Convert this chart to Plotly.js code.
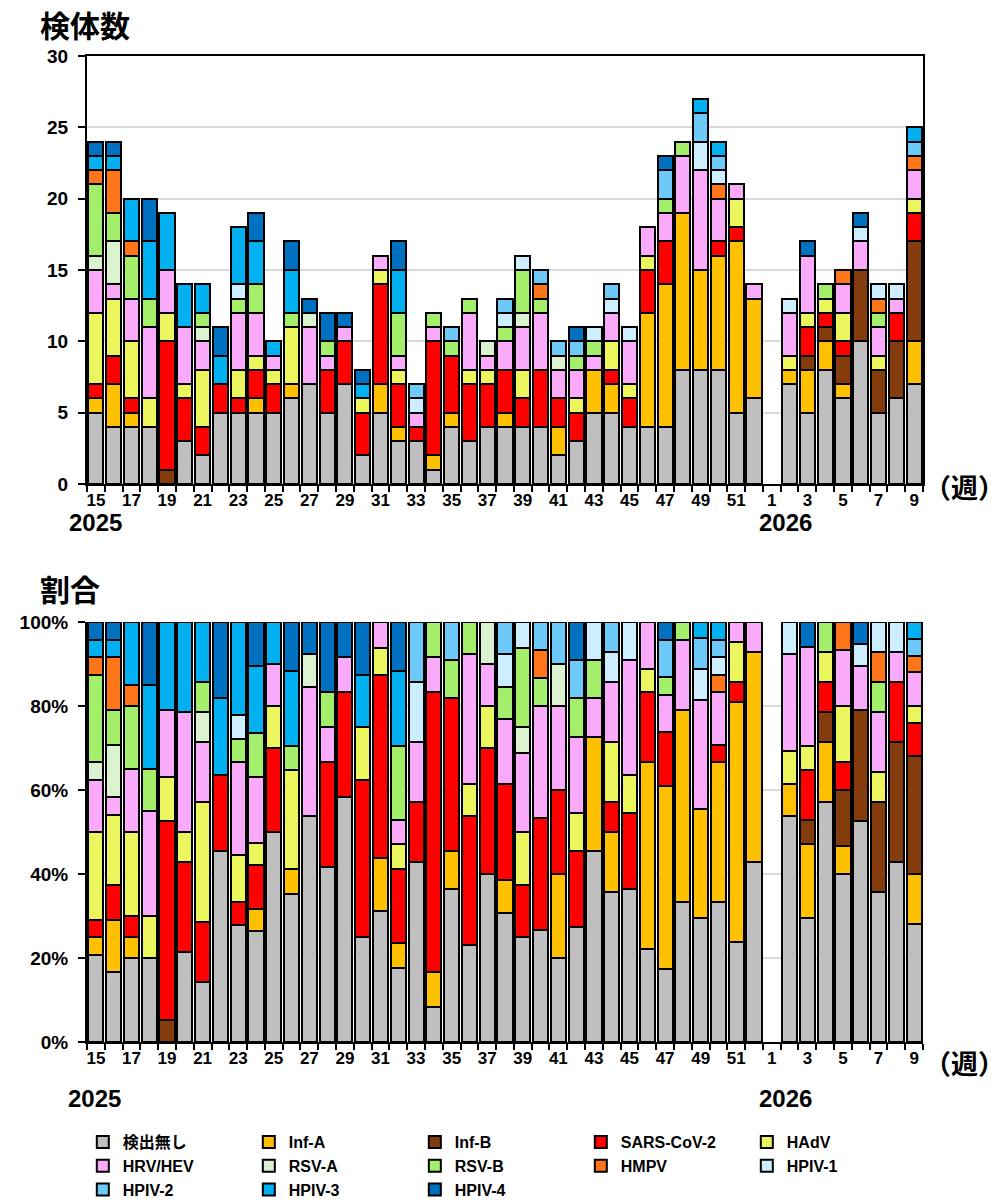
<!DOCTYPE html>
<html><head><meta charset="utf-8">
<script src="https://cdn.plot.ly/plotly-3.0.1.min.js"></script>
<style>body{margin:0;background:#fff}#chart{width:1004px;height:1202px}</style>
</head><body><div id="chart"></div>
<script>
// Weeks: 2025 weeks 15-52, then 2026 weeks 1-9
const weeks = ['15','16','17','18','19','20','21','22','23','24','25','26','27','28','29','30','31','32','33','34','35','36','37','38','39','40','41','42','43','44','45','46','47','48','49','50','51','52','1','2','3','4','5','6','7','8','9'];

const nondetect = [5,4,4,4,0,3,2,5,5,5, 5,6,7,5,7,2,5,3,3,1, 4,3,4,4,4,4,2,3,5,5, 4,4,4,8,8,8,5,6, 0,7,5,8,6,10,5,6,7];
const infA      = [1,3,1,0,0,0,0,0,0,1, 0,1,0,0,0,0,2,1,0,1, 1,0,0,1,0,0,2,0,3,2, 0,8,10,11,7,8,12,7, 0,1,3,2,1,0,0,0,3];
const infB      = [0,0,0,0,1,0,0,0,0,0, 0,0,0,0,0,0,0,0,0,0, 0,0,0,0,0,0,0,0,0,0, 0,0,0,0,0,0,0,0, 0,0,1,1,2,5,3,4,7];
const sarsCoV2  = [1,2,1,0,9,3,2,2,1,2, 2,0,0,3,3,3,7,3,1,8, 4,4,3,3,2,4,2,2,0,1, 2,3,3,0,0,1,1,0, 0,0,2,1,1,0,0,2,2];
const hadv      = [5,4,4,2,2,1,4,0,2,1, 1,4,0,0,0,1,1,1,0,0, 0,1,1,0,2,0,0,1,0,2, 1,1,0,0,0,0,2,0, 0,1,1,1,2,0,1,0,1];
const hrvHev    = [3,1,3,5,3,4,2,0,4,3, 1,0,4,1,1,0,1,1,1,1, 0,4,1,2,3,4,2,2,1,2, 3,2,2,4,7,3,1,1, 0,3,4,0,2,2,2,1,2];
const rsvA      = [1,3,0,0,0,0,1,0,0,0, 0,0,1,0,0,0,0,0,0,0, 0,0,1,0,1,0,1,0,0,0, 0,0,0,0,0,0,0,0, 0,0,0,0,0,0,0,0,0];
const rsvB      = [5,2,3,2,0,0,1,0,1,2, 0,1,0,1,0,0,0,3,0,1, 1,1,0,1,3,1,0,1,1,0, 0,0,1,1,0,0,0,0, 0,0,0,1,0,0,1,0,0];
const hmpv      = [1,3,1,0,0,0,0,0,0,0, 0,0,0,0,0,0,0,0,0,0, 0,0,0,0,0,1,0,0,0,0, 0,0,0,0,0,1,0,0, 0,0,0,0,1,0,1,0,1];
const hpiv1     = [0,0,0,0,0,0,0,0,1,0, 0,0,0,0,0,0,0,0,1,0, 0,0,0,1,1,0,0,0,1,1, 1,0,0,0,2,1,0,0, 0,1,0,0,0,1,1,1,0];
const hpiv2     = [0,0,0,0,0,0,0,0,0,0, 0,0,0,0,0,0,0,0,1,0, 1,0,0,1,0,1,1,1,0,1, 0,0,2,0,2,1,0,0, 0,0,0,0,0,0,0,0,1];
const hpiv3     = [1,1,3,4,4,3,2,2,4,3, 1,3,0,0,0,1,0,3,0,0, 0,0,0,0,0,0,0,0,0,0, 0,0,0,0,1,1,0,0, 0,0,0,0,0,0,0,0,1];
const hpiv4     = [1,1,0,3,0,0,0,2,0,2, 0,2,1,2,1,1,0,2,0,0, 0,0,0,0,0,0,0,1,0,0, 0,0,1,0,0,0,0,0, 0,0,1,0,0,1,0,0,0];

const seriesNames = ['検出無し','Inf-A','Inf-B','SARS-CoV-2','HAdV','HRV/HEV','RSV-A','RSV-B','HMPV','HPIV-1','HPIV-2','HPIV-3','HPIV-4'];
const seriesValues = [nondetect,infA,infB,sarsCoV2,hadv,hrvHev,rsvA,rsvB,hmpv,hpiv1,hpiv2,hpiv3,hpiv4];
const seriesColors = ['#BFBFBF','#FFC000','#843C0C','#FF0000','#EBF55D','#FAAAFA','#DAF2D0','#A3EE6A','#FF7519','#CCEEFF','#6DC9F7','#00B0F0','#0070C0'];

const tickText = weeks.map((w,i) => i % 2 === 0 ? w : '');

const totals = weeks.map((_,i) => seriesValues.reduce((a,s) => a + s[i], 0));

const BOLD = 'Arial, "Liberation Sans", "Noto Sans CJK JP", sans-serif';
const CJK = '"Noto Sans CJK JP", Arial, sans-serif';

const traces = [];
seriesNames.forEach((name, k) => {
  const vals = seriesValues[k];
  const line = {color:'#000', width:2};
  traces.push({
    type:'bar', name, x:weeks, y:vals.map(v => v === 0 ? null : v),
    marker:{color:seriesColors[k], line}, xaxis:'x', yaxis:'y',
    legendgroup:name, showlegend:true, hoverinfo:'skip'
  });
  traces.push({
    type:'bar', name, x:weeks,
    y:vals.map((v,i) => (v === 0 || totals[i] === 0) ? null : v / totals[i] * 100),
    marker:{color:seriesColors[k], line}, xaxis:'x2', yaxis:'y2',
    legendgroup:name, showlegend:false, hoverinfo:'skip'
  });
});

// pixel helpers (plot area: x 87..923, y 56..1042)
const L = 87, R = 923, T = 56, B = 1042;
const px = x => (x - L) / (R - L);
const py = y => (B - y) / (B - T);

const xaxisBase = {
  type:'category', categoryorder:'array', categoryarray:weeks,
  tickmode:'array', tickvals:weeks, ticktext:tickText, tickson:'boundaries',
  tickangle:0, automargin:false,
  ticks:'outside', ticklen:6, tickwidth:2, tickcolor:'#000',
  showline:true, linecolor:'#000', linewidth:2, showgrid:false, zeroline:false,
  tickfont:{family:BOLD, size:17, color:'#000', weight:'bold'}, fixedrange:true
};
const yaxisBase = {
  ticks:'outside', ticklen:7, tickwidth:2, tickcolor:'#000', automargin:false,
  ticklabelstandoff:6,
  showline:true, linecolor:'#000', linewidth:2,
  showgrid:true, gridcolor:'#D9D9D9', gridwidth:2, zeroline:false,
  tickfont:{family:BOLD, size:19, color:'#000', weight:'bold'}, fixedrange:true
};

const ann = (text, x, y, xanchor, size, family) => ({
  text, xref:'paper', yref:'paper', x:px(x), y:py(y), xanchor, yanchor:'middle',
  showarrow:false, font:{family:family || BOLD, size:size || 22, color:'#000', weight:'bold'}
});

const layout = {
  width:1004, height:1202,
  margin:{l:L, r:1004 - R, t:T, b:1202 - B, autoexpand:false},
  paper_bgcolor:'#fff', plot_bgcolor:'#fff',
  barmode:'stack', bargap:0.15,
  font:{family:BOLD, size:16, color:'#000'},
  showlegend:true,
  legend:{
    orientation:'h', x:-0.005, xanchor:'left', y:py(1125), yanchor:'top',
    traceorder:'normal', entrywidth:121, entrywidthmode:'pixels',
    font:{family:BOLD, size:16, color:'#000', weight:'bold'}, tracegroupgap:0, itemclick:false
  },
  xaxis:Object.assign({}, xaxisBase, {domain:[0,1], anchor:'y', mirror:true}),
  yaxis:Object.assign({}, yaxisBase, {domain:[py(484),1], anchor:'x', range:[0,30], dtick:5, tick0:0, mirror:true}),
  xaxis2:Object.assign({}, xaxisBase, {domain:[0,1], anchor:'y2'}),
  yaxis2:Object.assign({}, yaxisBase, {domain:[0,py(622)], anchor:'x2', range:[0,100], dtick:20, tick0:0, ticksuffix:'%'}),
  annotations:[
    ann('検体数', 38, 24, 'left', 30, CJK),
    ann('割合', 38, 588, 'left', 30, CJK),
    ann('（週）', 922, 486, 'left', 27, CJK),
    ann('（週）', 922, 1062, 'left', 27, CJK),
    ann('2025', 95, 522, 'center', 24),
    ann('2026', 785, 522, 'center', 24),
    ann('2025', 94, 1098, 'center', 24),
    ann('2026', 785, 1098, 'center', 24)
  ]
};

Plotly.newPlot('chart', traces, layout, {displayModeBar:false, staticPlot:true});
</script>
</body></html>
